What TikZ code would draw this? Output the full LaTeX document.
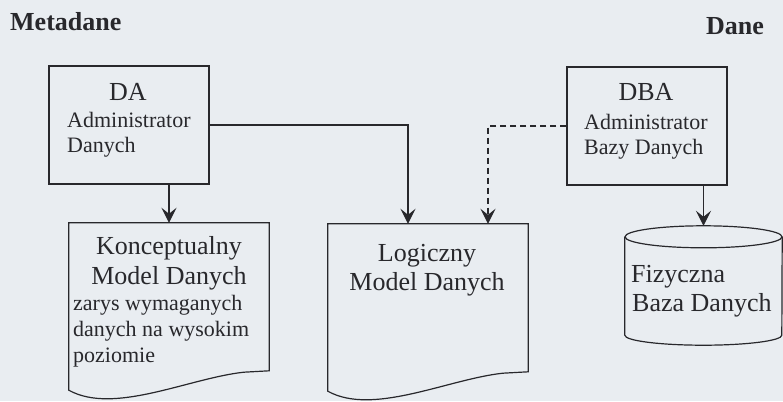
\documentclass[tikz,border=0pt]{standalone}
\usepackage{fontspec}
\setmainfont{Liberation Serif}
\usetikzlibrary{arrows.meta,calc}
\definecolor{paper}{RGB}{233,237,241}
\definecolor{ink}{RGB}{40,40,44}
\begin{document}
\begin{tikzpicture}
[x=1pt,y=-1pt,
  lineDecorate/.style={-,line width=1.2pt,draw=ink},%
  arrowDecorate/.style={-{Stealth[length=15pt,width=15pt,inset=6pt]},line width=1.2pt,draw=ink},%
  boxDecorate/.style={shape=rectangle,draw=ink,line width=1.2pt,minimum width=160pt,minimum height=118pt,inner sep=0pt},%
  docDecorate/.style={shape=rectangle,minimum width=200pt,minimum height=167pt,inner sep=0pt},%
  baseDecorate/.style={shape=rectangle,minimum width=157pt,minimum height=120pt,inner sep=0pt},%
  bigText/.style={font=\fontsize{26}{30}\selectfont,text=ink,inner sep=0pt},%
  smallText/.style={font=\fontsize{22}{26}\selectfont,text=ink,inner sep=0pt},%
  headText/.style={font=\fontsize{26}{30}\selectfont\bfseries,text=ink,inner sep=0pt}]
\path[use as bounding box,fill=paper] (0,0) rectangle (783,401);
%% headings
\node (meta) at (10,31) [headText,anchor=base west] {Metadane};
\node (dane) at (706,34.5) [headText,anchor=base west] {Dane};
%% administrator boxes
\foreach \nodename/\x/\y in {da/129/125, dba/647/126}
{
  \node (\nodename) at (\x,\y) [boxDecorate] {};
}
%% documents with a wavy bottom
\foreach \nodename/\x/\y in {kmd/169/306.5, lmd/428/307.5}
{
  \node (\nodename) at (\x,\y) [docDecorate] {};
  \draw[lineDecorate] (\nodename.south west) -- (\nodename.north west)
    -- (\nodename.north east) -- ($(\nodename.north east)+(0,148)$)
    -- ($(\nodename.south west)+(175,-18)$)
    .. controls ($(\nodename.south west)+(120,-12)$) and ($(\nodename.south west)+(45,25)$)
    .. (\nodename.south west) -- cycle;
}
%% database cylinder
\node (fbd) at (703.5,286) [baseDecorate] {};
\draw[lineDecorate] ($(fbd.north)+(0,11)$) ellipse [x radius=78.5pt,y radius=11pt];
\draw[lineDecorate] ($(fbd.north west)+(0,11)$) -- ($(fbd.south west)+(0,-11)$)
  arc[start angle=180,end angle=360,x radius=78.5pt,y radius=10pt]
  -- ($(fbd.north east)+(0,11)$);
%% texts
\foreach \nodename/\x/\y/\txt in {
  daTitle/128/100/DA, dbaTitle/646/100/DBA,
  kmdTitle/169/254.5/Konceptualny, kmdName/169/284/Model Danych,
  lmdTitle/427/261/Logiczny, lmdName/427/290/Model Danych}
{
  \node (\nodename) at (\x,\y) [bigText,anchor=base] {\txt};
}
\foreach \nodename/\x/\y/\txt in {
  fbdTitle/631/282/Fizyczna, fbdName/632/311/Baza Danych}
{
  \node (\nodename) at (\x,\y) [bigText,anchor=base west] {\txt};
}
\foreach \nodename/\x/\y/\txt in {
  daRole/67/127/Administrator, daWhat/67/152/Danych,
  dbaRole/584/129/Administrator, dbaWhat/584/154/Bazy Danych,
  kmdNoteA/73/310/zarys wymaganych, kmdNoteB/73/336/danych na wysokim,
  kmdNoteC/73/362/poziomie}
{
  \node (\nodename) at (\x,\y) [smallText,anchor=base west] {\txt};
}
%% connectors
\draw[arrowDecorate] (da.south -| kmd.north) -- (kmd.north);
\draw[arrowDecorate] (da.east) -| ([xshift=-20pt]lmd.north);
\draw[arrowDecorate,dash pattern=on 6pt off 4pt] (dba.west) -| ([xshift=60pt]lmd.north);
\draw[arrowDecorate] (dba.south -| fbd.north) -- (fbd.north);
\end{tikzpicture}
\end{document}
